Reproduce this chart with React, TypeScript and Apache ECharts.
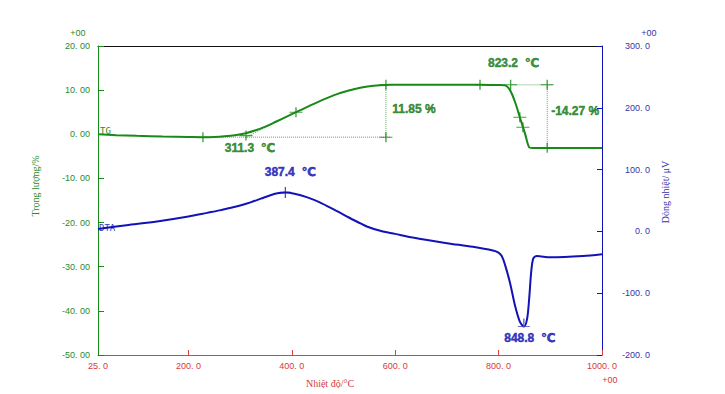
import React, { useEffect, useRef } from "react";
import * as echarts from "echarts";

// TG curve (weight %, left axis)
const tgTemps = [25, 60, 100, 150, 200, 228, 250, 270, 290, 311, 330, 350, 370, 390, 408, 430, 450, 470, 490, 510, 530, 550, 570, 590, 650, 700, 764, 800, 812, 822, 832, 841, 851, 859, 865, 900, 1000];
const tgValues = [0.0, -0.2, -0.35, -0.5, -0.6, -0.65, -0.6, -0.45, -0.2, 0.25, 0.9, 1.8, 2.9, 4.0, 5.0, 6.2, 7.3, 8.3, 9.2, 9.9, 10.5, 10.9, 11.1, 11.2, 11.25, 11.25, 11.2, 11.15, 11.1, 10.0, 7.25, 3.85, 0.2, -2.95, -3.1, -3.1, -3.1];

// DTA curve (heat flow µV, right axis)
const dtaTemps = [25, 80, 139, 200, 236, 260, 280, 300, 320, 340, 360, 375, 387.4, 405, 430, 454, 480, 507, 530, 545, 571, 600, 634, 700, 750, 789, 799, 806, 812, 822, 832, 841, 849, 855, 859, 863, 867, 874, 900, 963, 1000];
const dtaValues = [4, 10, 16, 24, 30, 34, 38, 42, 47, 53, 59, 62, 63, 61, 55, 47, 36, 24, 14, 8, 1, -4, -10, -19, -25, -31, -34, -40, -53, -83, -121, -146, -154, -142, -110, -66, -44, -40, -42, -40, -37];

// Axis ticks
const xLabelValues = [25, 200, 400, 600, 800, 1000];
const xTickValues = [200, 400, 600, 800, 1000];

// TG analysis markers
const tgMarkerTemps = [228, 311.3, 408, 582, 582, 764, 823.2, 841, 847, 894, 894];
const tgMarkerValues = [-0.65, -0.3, 5.0, 11.2, -0.65, 11.2, 11.2, 3.85, 1.6, 11.2, -3.07];

// TG construction lines (pairs of points)
const tgGuideLines = [
  [[228, -0.65], [590, -0.65]],
  [[311.3, -0.65], [408, 5.0]],
  [[582, -0.65], [582, 11.2]],
  [[823.2, 11.2], [905, 11.2]],
  [[894, 11.2], [894, -3.07]],
];

// DTA markers
const dtaPeakTemps = [387.4];
const dtaPeakValues = [63];
const dtaMinTemps = [848.8];
const dtaMinValues = [-154];

// Annotations
const annTexts = ["311.3  ℃", "11.85 %", "823.2  ℃", "-14.27 %", "387.4  ℃", "848.8  ℃"];
const annTemps = [311.3, 582, 823.2, 894, 387.4, 848.8];
const annValues = [-0.65, 5.3, 11.2, 4.07, 63, -154];
const annAxis = [0, 0, 0, 0, 1, 1];

const GREEN = "#178a17";
const GREEN_TXT = "#2a8a2a";
const BLUE = "#1212b8";
const BLUE_TXT = "#3535a8";
const RED = "#e04040";
const RED_TXT = "#d43a3a";

const labelOffsets: number[][] = [[4, 11], [28, -2], [3, -22], [28, -5], [5, -20], [6, 11]];

export default function App() {
  const ref = useRef<HTMLDivElement>(null);
  useEffect(() => {
    document.body.style.margin = "0";
    if (!ref.current) return;
    const chart = echarts.init(ref.current, null, { renderer: "svg" });
    const crossSymbol = "path://M0,5L12,5M6,0L6,10";
    const minSymbol = "path://M0,10L12,10M6,0L6,10";
    const tickFont = '"Liberation Sans", Arial, sans-serif';
    const serif = '"Liberation Serif", "DejaVu Serif", serif';
    const annFont = '"Liberation Sans", Arial, "DejaVu Sans", sans-serif';

    const annSeries = [0, 1].map((ax) => ({
      type: "scatter",
      xAxisIndex: 0,
      yAxisIndex: ax,
      symbolSize: 1,
      itemStyle: { color: "transparent" },
      silent: true,
      z: 10,
      data: annTexts
        .map((t, i) => ({ t, i }))
        .filter((d) => annAxis[d.i] === ax)
        .map((d) => ({
          value: [annTemps[d.i], annValues[d.i]],
          label: {
            show: true,
            position: "inside",
            offset: labelOffsets[d.i],
            formatter: d.t,
            color: ax === 0 ? "#0f760f" : "#0a0aae",
            fontSize: 12,
            fontWeight: 900,
            fontFamily: annFont,
            textBorderColor: ax === 0 ? "#0f760f" : "#0a0aae",
            textBorderWidth: 0.5,
          },
        })),
    }));

    chart.setOption({
      animation: false,
      grid: { left: 98, right: 123, top: 46, bottom: 39 },
      xAxis: [
        {
          type: "value",
          position: "bottom",
          min: 25,
          max: 1000,
          axisLine: { show: true, onZero: false, lineStyle: { color: RED, width: 1 } },
          axisTick: { show: true, inside: true, length: 5, lineStyle: { color: RED }, customValues: xTickValues },
          axisLabel: {
            customValues: xLabelValues,
            formatter: (v: number) => v.toFixed(1).replace(".", ". "),
            color: RED_TXT,
            fontSize: 9,
            fontFamily: tickFont,
            margin: 6,
          },
          splitLine: { show: false },
        },
        {
          type: "value",
          position: "top",
          min: 25,
          max: 1000,
          axisLine: { show: true, onZero: false, lineStyle: { color: "#111", width: 1 } },
          axisTick: { show: false },
          axisLabel: { show: false },
          splitLine: { show: false },
        },
      ],
      yAxis: [
        {
          type: "value",
          position: "left",
          min: -50,
          max: 20,
          interval: 10,
          axisLine: { show: true, onZero: false, lineStyle: { color: GREEN, width: 1 } },
          axisTick: { show: true, inside: true, length: 6, lineStyle: { color: GREEN } },
          axisLabel: {
            formatter: (v: number) => v.toFixed(2).replace(".", ". "),
            color: GREEN_TXT,
            fontSize: 9,
            fontFamily: tickFont,
            margin: 8,
          },
          splitLine: { show: false },
        },
        {
          type: "value",
          position: "right",
          min: -200,
          max: 300,
          interval: 100,
          axisLine: { show: true, onZero: false, lineStyle: { color: BLUE, width: 1 } },
          axisTick: { show: true, inside: true, length: 5, lineStyle: { color: BLUE } },
          axisLabel: {
            formatter: (v: number) => v.toFixed(1).replace(".", ". "),
            color: BLUE_TXT,
            fontSize: 9,
            fontFamily: tickFont,
            margin: 48,
            align: "right",
          },
          splitLine: { show: false },
        },
      ],
      series: [
        {
          name: "TG",
          type: "line",
          xAxisIndex: 0,
          yAxisIndex: 0,
          data: tgTemps.map((t, i) => [t, tgValues[i]]),
          showSymbol: false,
          smooth: 0.3,
          lineStyle: { color: GREEN, width: 2 },
          z: 3,
        },
        {
          name: "DTA",
          type: "line",
          xAxisIndex: 0,
          yAxisIndex: 1,
          data: dtaTemps.map((t, i) => [t, dtaValues[i]]),
          showSymbol: false,
          smooth: 0.3,
          lineStyle: { color: BLUE, width: 2 },
          z: 3,
        },
        ...tgGuideLines.map((seg) => ({
          type: "line",
          xAxisIndex: 0,
          yAxisIndex: 0,
          data: seg,
          showSymbol: false,
          silent: true,
          lineStyle: { color: "#5aa85a", width: 1, type: "dotted" },
          z: 2,
        })),
        {
          type: "scatter",
          xAxisIndex: 0,
          yAxisIndex: 0,
          symbol: crossSymbol,
          symbolSize: [13, 10],
          itemStyle: { color: "transparent", borderColor: GREEN, borderWidth: 1.2 },
          data: tgMarkerTemps.map((t, i) => [t, tgMarkerValues[i]]),
          silent: true,
          z: 5,
        },
        {
          type: "scatter",
          xAxisIndex: 0,
          yAxisIndex: 1,
          symbol: crossSymbol,
          symbolSize: [11, 11],
          itemStyle: { color: "transparent", borderColor: BLUE, borderWidth: 1.2 },
          data: dtaPeakTemps.map((t, i) => [t, dtaPeakValues[i]]),
          silent: true,
          z: 5,
        },
        {
          type: "scatter",
          xAxisIndex: 0,
          yAxisIndex: 1,
          symbol: minSymbol,
          symbolSize: [12, 8],
          symbolOffset: [0, -4],
          itemStyle: { color: "transparent", borderColor: "#4a4ac8", borderWidth: 1.2 },
          data: dtaMinTemps.map((t, i) => [t, dtaMinValues[i]]),
          silent: true,
          z: 5,
        },
        ...annSeries,
      ],
      graphic: [
        { type: "text", x: 78, y: 33, style: { text: "+00", fill: GREEN_TXT, font: `9px ${tickFont}`, align: "center", verticalAlign: "middle" } },
        { type: "text", x: 649, y: 33, style: { text: "+00", fill: BLUE_TXT, font: `9px ${tickFont}`, align: "center", verticalAlign: "middle" } },
        { type: "text", x: 610, y: 380, style: { text: "+00", fill: RED_TXT, font: `9px ${tickFont}`, align: "center", verticalAlign: "middle" } },
        { type: "text", x: 35, y: 186, rotation: Math.PI / 2, style: { text: "Trọng lượng/%", fill: GREEN_TXT, font: `10px ${serif}`, align: "center", verticalAlign: "middle" } },
        { type: "text", x: 665, y: 192, rotation: Math.PI / 2, style: { text: "Dòng nhiệt/ μV", fill: BLUE_TXT, font: `10px ${serif}`, align: "center", verticalAlign: "middle" } },
        { type: "text", x: 330, y: 383, style: { text: "Nhiệt độ/°C", fill: RED_TXT, font: `10px ${serif}`, align: "center", verticalAlign: "middle" } },
        { type: "text", x: 100, y: 131, style: { text: "TG", fill: GREEN_TXT, font: `9px "DejaVu Sans Mono", monospace`, align: "left", verticalAlign: "middle" } },
        { type: "text", x: 99, y: 228, style: { text: "DTA", fill: "#3a3ab8", font: `9px "DejaVu Sans Mono", monospace`, align: "left", verticalAlign: "middle" } },
      ],
    });
    return () => chart.dispose();
  }, []);
  return <div ref={ref} style={{ width: 725, height: 394 }} />;
}
